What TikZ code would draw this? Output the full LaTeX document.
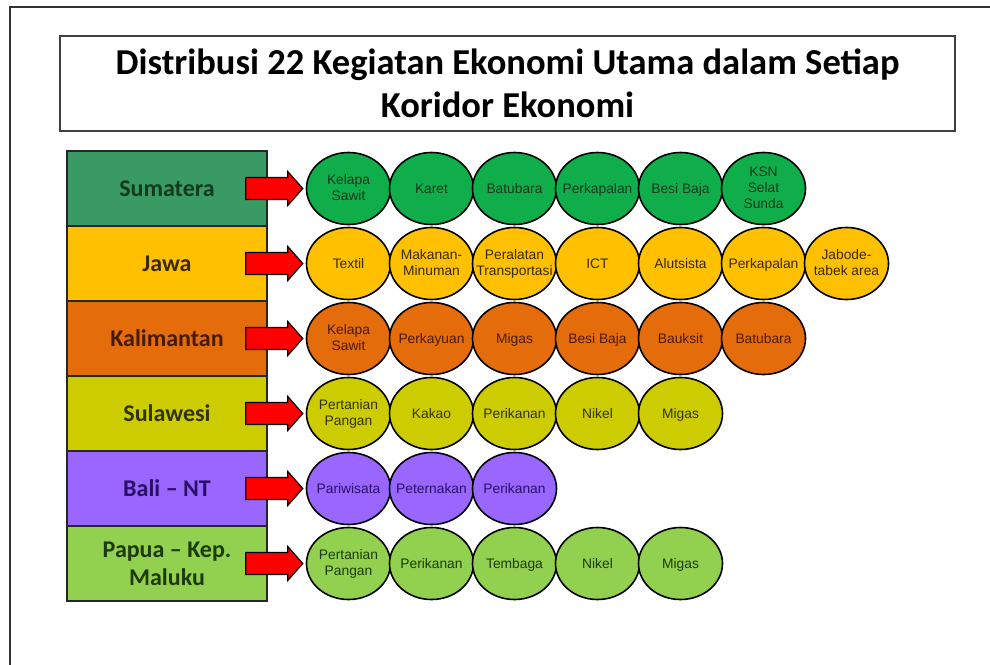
\documentclass[tikz,border=0pt]{standalone}
\usepackage{fontspec}
\setmainfont{Liberation Sans}
\newfontfamily\calib{Carlito}
\usetikzlibrary{shapes.geometric,calc}
\definecolor{bSum}{HTML}{3A9A64}
\definecolor{eSum}{HTML}{10AE4A}
\definecolor{tSum}{HTML}{123A20}
\definecolor{cJaw}{HTML}{FFC000}
\definecolor{tJaw}{HTML}{3A2A00}
\definecolor{cKal}{HTML}{E46C0A}
\definecolor{tKal}{HTML}{4A1A00}
\definecolor{cSul}{HTML}{CCCC00}
\definecolor{tSul}{HTML}{333300}
\definecolor{cBal}{HTML}{9966FF}
\definecolor{tBal}{HTML}{2A0F66}
\definecolor{cPap}{HTML}{92D050}
\definecolor{tPap}{HTML}{1C3A0A}
\definecolor{arrRed}{HTML}{FF0000}
\tikzset{
  rowbox/.style={draw=black!85, line width=1.5pt, minimum width=200pt, minimum height=75pt,
    inner sep=0pt, align=center, font=\calib\bfseries\fontsize{24}{28}\selectfont},
  item/.style={ellipse, draw=black, line width=1.6pt, minimum width=84pt, minimum height=72pt, inner sep=0pt},
  itemtext/.style={align=center, inner sep=0pt, font=\fontsize{13.8}{16}\selectfont, yshift=-1.5pt,
    execute at begin node={\strut}, execute at end node={\strut}},
  redarr/.style={fill=arrRed, draw=black, line width=1.2pt, line join=miter},
  frame/.style={draw=black!80, line width=2pt},
  titlebox/.style={draw=black!75, line width=1.5pt, minimum width=895pt, minimum height=95pt,
    inner sep=0pt, align=center, font=\calib\bfseries\fontsize{36.5}{43}\selectfont}
}
\newcommand\blockarrow[1]{%
  \draw[redarr] ($(#1.east)+(-22,-11)$) -- ++(42,0) -- ++(0,-6) -- ++(15,17) -- ++(-15,17) -- ++(0,-6) -- ++(-42,0) -- cycle;}
\begin{document}
\begin{tikzpicture}[x=1pt,y=-1pt]
\useasboundingbox (0,0) rectangle (990,664);
\draw[frame] (10,670) -- (10,7) -- (996,7);
\node[titlebox] (title) at (507.5,83.5) {Distribusi 22 Kegiatan Ekonomi Utama dalam Setiap\\Koridor Ekonomi};

% Sumatera
\node[rowbox, fill=bSum, text=tSum] (r1) at (167,188.5) {Sumatera};
\foreach \t [count=\i] in {{Kelapa\\Sawit},Karet,Batubara,Perkapalan,Besi Baja,{KSN\\Selat\\Sunda}}
  \node[item, fill=eSum, label={[itemtext, text=tSum]center:\t}] (e1-\i) at ({348.5+83*(\i-1)},188.5) {};
% Jawa
\node[rowbox, fill=cJaw, text=tJaw] (r2) at (167,263.5) {Jawa};
\foreach \t [count=\i] in {Textil,{Makanan-\\Minuman},{Peralatan\\Transportasi},ICT,Alutsista,Perkapalan,{Jabode-\\tabek area}}
  \node[item, fill=cJaw, label={[itemtext, text=tJaw]center:\t}] (e2-\i) at ({348.5+83*(\i-1)},263.5) {};
% Kalimantan
\node[rowbox, fill=cKal, text=tKal] (r3) at (167,338.5) {Kalimantan};
\foreach \t [count=\i] in {{Kelapa\\Sawit},Perkayuan,Migas,Besi Baja,Bauksit,Batubara}
  \node[item, fill=cKal, label={[itemtext, text=tKal]center:\t}] (e3-\i) at ({348.5+83*(\i-1)},338.5) {};
% Sulawesi
\node[rowbox, fill=cSul, text=tSul] (r4) at (167,413.5) {Sulawesi};
\foreach \t [count=\i] in {{Pertanian\\Pangan},Kakao,Perikanan,Nikel,Migas}
  \node[item, fill=cSul, label={[itemtext, text=tSul]center:\t}] (e4-\i) at ({348.5+83*(\i-1)},413.5) {};
% Bali – NT
\node[rowbox, fill=cBal, text=tBal] (r5) at (167,488.5) {Bali – NT};
\foreach \t [count=\i] in {Pariwisata,Peternakan,Perikanan}
  \node[item, fill=cBal, label={[itemtext, text=tBal]center:\t}] (e5-\i) at ({348.5+83*(\i-1)},488.5) {};
% Papua
\node[rowbox, fill=cPap, text=tPap] (r6) at (167,563.5) {Papua – Kep.\\Maluku};
\foreach \t [count=\i] in {{Pertanian\\Pangan},Perikanan,Tembaga,Nikel,Migas}
  \node[item, fill=cPap, label={[itemtext, text=tPap]center:\t}] (e6-\i) at ({348.5+83*(\i-1)},563.5) {};

\foreach \r in {1,...,6} {\blockarrow{r\r}}
\end{tikzpicture}
\end{document}
